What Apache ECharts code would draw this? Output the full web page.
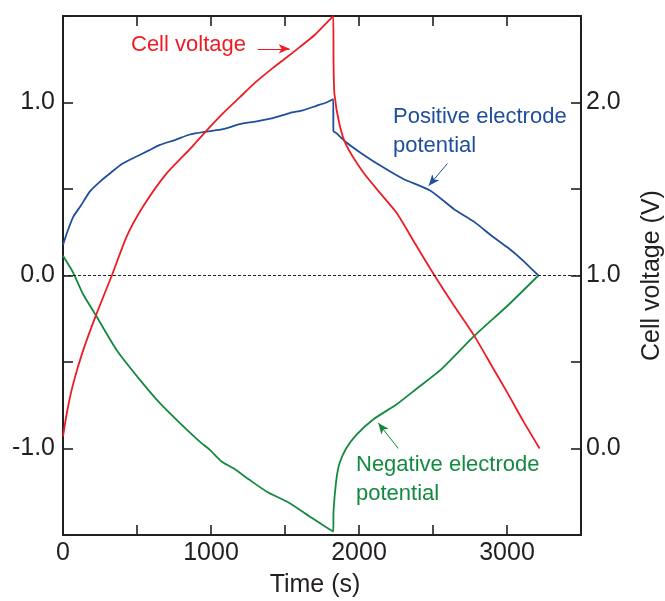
<!DOCTYPE html>
<html>
<head>
<meta charset="utf-8">
<script src="https://cdn.jsdelivr.net/npm/echarts@6/dist/echarts.min.js"></script>
<style>
  html, body { margin: 0; padding: 0; background: #fff; }
  #chart { width: 665px; height: 601px; }
</style>
</head>
<body>
<div id="chart"></div>
<script>
// Time (s) and potentials
const posTime = [0, 30, 70, 120, 182, 250, 317, 400, 497, 580, 655, 760, 857, 970, 1082, 1194, 1300, 1419, 1532, 1620, 1712, 1780, 1826, 1827, 1845, 1913, 2000, 2141, 2300, 2483, 2640, 2779, 2900, 3007, 3110, 3212];
const posPotential = [0.177, 0.254, 0.34, 0.403, 0.486, 0.543, 0.59, 0.646, 0.688, 0.723, 0.755, 0.784, 0.815, 0.832, 0.846, 0.875, 0.89, 0.91, 0.939, 0.955, 0.981, 1.0, 1.02, 0.835, 0.824, 0.77, 0.716, 0.637, 0.558, 0.49, 0.385, 0.31, 0.227, 0.16, 0.085, 0.0];

const negTime = [0, 58, 81, 137, 227, 362, 520, 655, 790, 924, 992, 1071, 1149, 1260, 1374, 1532, 1680, 1826, 1828, 1847, 1869, 1913, 1982, 2096, 2255, 2400, 2551, 2779, 3007, 3212];
const negPotential = [0.114, 0.033, -0.006, -0.11, -0.237, -0.43, -0.603, -0.738, -0.853, -0.96, -1.008, -1.075, -1.113, -1.181, -1.248, -1.316, -1.40, -1.48, -1.36, -1.18, -1.084, -1.0, -0.921, -0.832, -0.744, -0.647, -0.546, -0.349, -0.172, 0.0];

const cellTime = [0, 30, 70, 137, 227, 330, 430, 542, 700, 857, 970, 1082, 1194, 1300, 1419, 1510, 1599, 1700, 1826, 1828, 1834, 1868, 1913, 2027, 2140, 2255, 2380, 2506, 2640, 2779, 2900, 3007, 3110, 3220];
const cellVoltage = [0.07, 0.224, 0.378, 0.57, 0.78, 1.0, 1.225, 1.4, 1.59, 1.73, 1.838, 1.939, 2.03, 2.116, 2.2, 2.26, 2.32, 2.39, 2.5, 2.23, 2.05, 1.874, 1.755, 1.598, 1.479, 1.361, 1.183, 1.006, 0.828, 0.651, 0.473, 0.316, 0.158, 0.0];

const timeTicks = [0, 3500, 500];
const potentialTicks = [-1.5, 1.5, 0.5];
const voltageTicks = [-0.5, 2.5, 0.5];

const RED = '#ed1c24';
const BLUE = '#1f4e9d';
const GREEN = '#138a3f';
const INK = '#231f20';
const FONT = 'Arial, "Liberation Sans", sans-serif';

function pairs(xs, ys) {
  return xs.map((x, i) => [x, ys[i]]);
}

function oneDecimalAtWhole(v) {
  return Math.abs(v - Math.round(v)) < 1e-6 ? v.toFixed(1) : '';
}

const axisLine = { show: true, onZero: false, lineStyle: { color: INK, width: 2 } };
const axisTick = { show: true, inside: true, length: 10, lineStyle: { color: INK, width: 1.6 } };
const axisLabel = { color: INK, fontSize: 25, fontFamily: FONT };

function arrowLine(color, from, to) {
  return {
    silent: true,
    symbol: ['none', 'arrow'],
    symbolSize: [7, 11],
    label: { show: false },
    emphasis: { disabled: true },
    lineStyle: { color: color, width: 1, type: 'solid' },
    data: [[{ coord: from }, { coord: to }]],
  };
}

const chart = echarts.init(document.getElementById('chart'), null, { renderer: 'canvas' });

const blueMark = arrowLine(BLUE, [2597, 0.647], [2471, 0.519]);
blueMark.data.push([
  { coord: [timeTicks[0], 0], symbol: 'none', lineStyle: { color: INK, width: 1, type: [3, 2] } },
  { coord: [timeTicks[1], 0], symbol: 'none' },
]);

chart.setOption({
  animation: false,
  grid: { left: 63, right: 84, top: 16, bottom: 66, containLabel: false, outerBoundsMode: 'none' },
  xAxis: [
    {
      type: 'value',
      min: timeTicks[0],
      max: timeTicks[1],
      interval: timeTicks[2],
      name: 'Time (s)',
      nameLocation: 'middle',
      nameGap: 38,
      nameTextStyle: { color: INK, fontSize: 25, fontFamily: FONT, padding: [0, 14, 0, 0] },
      axisLine: axisLine,
      axisTick: axisTick,
      splitLine: { show: false },
      axisLabel: Object.assign({}, axisLabel, {
        margin: 6,
        formatter: (v) => (v % 1000 === 0 ? String(v) : ''),
      }),
    },
    {
      type: 'value',
      position: 'top',
      min: timeTicks[0],
      max: timeTicks[1],
      interval: timeTicks[2],
      axisLine: axisLine,
      axisTick: axisTick,
      axisLabel: { show: false },
      splitLine: { show: false },
    },
  ],
  yAxis: [
    {
      type: 'value',
      position: 'left',
      min: potentialTicks[0],
      max: potentialTicks[1],
      interval: potentialTicks[2],
      axisLine: axisLine,
      axisTick: axisTick,
      splitLine: { show: false },
      axisLabel: Object.assign({}, axisLabel, { margin: 8, formatter: oneDecimalAtWhole }),
    },
    {
      type: 'value',
      position: 'right',
      min: voltageTicks[0],
      max: voltageTicks[1],
      interval: voltageTicks[2],
      name: 'Cell voltage (V)',
      nameLocation: 'middle',
      nameRotate: 90,
      nameGap: 59,
      nameTextStyle: { color: INK, fontSize: 25, fontFamily: FONT },
      axisLine: axisLine,
      axisTick: axisTick,
      splitLine: { show: false },
      axisLabel: Object.assign({}, axisLabel, { margin: 5, formatter: oneDecimalAtWhole }),
    },
  ],
  series: [
    {
      name: 'Positive electrode potential',
      type: 'line',
      xAxisIndex: 0,
      yAxisIndex: 0,
      data: pairs(posTime, posPotential),
      showSymbol: false,
      smooth: 0.2,
      lineStyle: { color: BLUE, width: 1.8 },
      itemStyle: { color: BLUE },
      markLine: blueMark,
      z: 3,
    },
    {
      name: 'Negative electrode potential',
      type: 'line',
      xAxisIndex: 0,
      yAxisIndex: 0,
      data: pairs(negTime, negPotential),
      showSymbol: false,
      smooth: 0.2,
      lineStyle: { color: GREEN, width: 1.8 },
      itemStyle: { color: GREEN },
      markLine: arrowLine(GREEN, [2265, -1.0], [2130, -0.852]),
      z: 3,
    },
    {
      name: 'Cell voltage',
      type: 'line',
      xAxisIndex: 0,
      yAxisIndex: 1,
      data: pairs(cellTime, cellVoltage),
      showSymbol: false,
      smooth: 0.2,
      lineStyle: { color: RED, width: 1.8 },
      itemStyle: { color: RED },
      markLine: arrowLine(RED, [1316, 2.31], [1532, 2.31]),
      z: 4,
    },
  ],
  graphic: [
    { type: 'text', left: 131, top: 34, style: { text: 'Cell voltage', fill: RED, font: '22px ' + FONT } },
    { type: 'text', left: 393, top: 106, style: { text: 'Positive electrode', fill: BLUE, font: '22px ' + FONT } },
    { type: 'text', left: 393, top: 135, style: { text: 'potential', fill: BLUE, font: '22px ' + FONT } },
    { type: 'text', left: 356, top: 454, style: { text: 'Negative electrode', fill: GREEN, font: '22px ' + FONT } },
    { type: 'text', left: 356, top: 483, style: { text: 'potential', fill: GREEN, font: '22px ' + FONT } },
  ],
});
</script>
</body>
</html>
